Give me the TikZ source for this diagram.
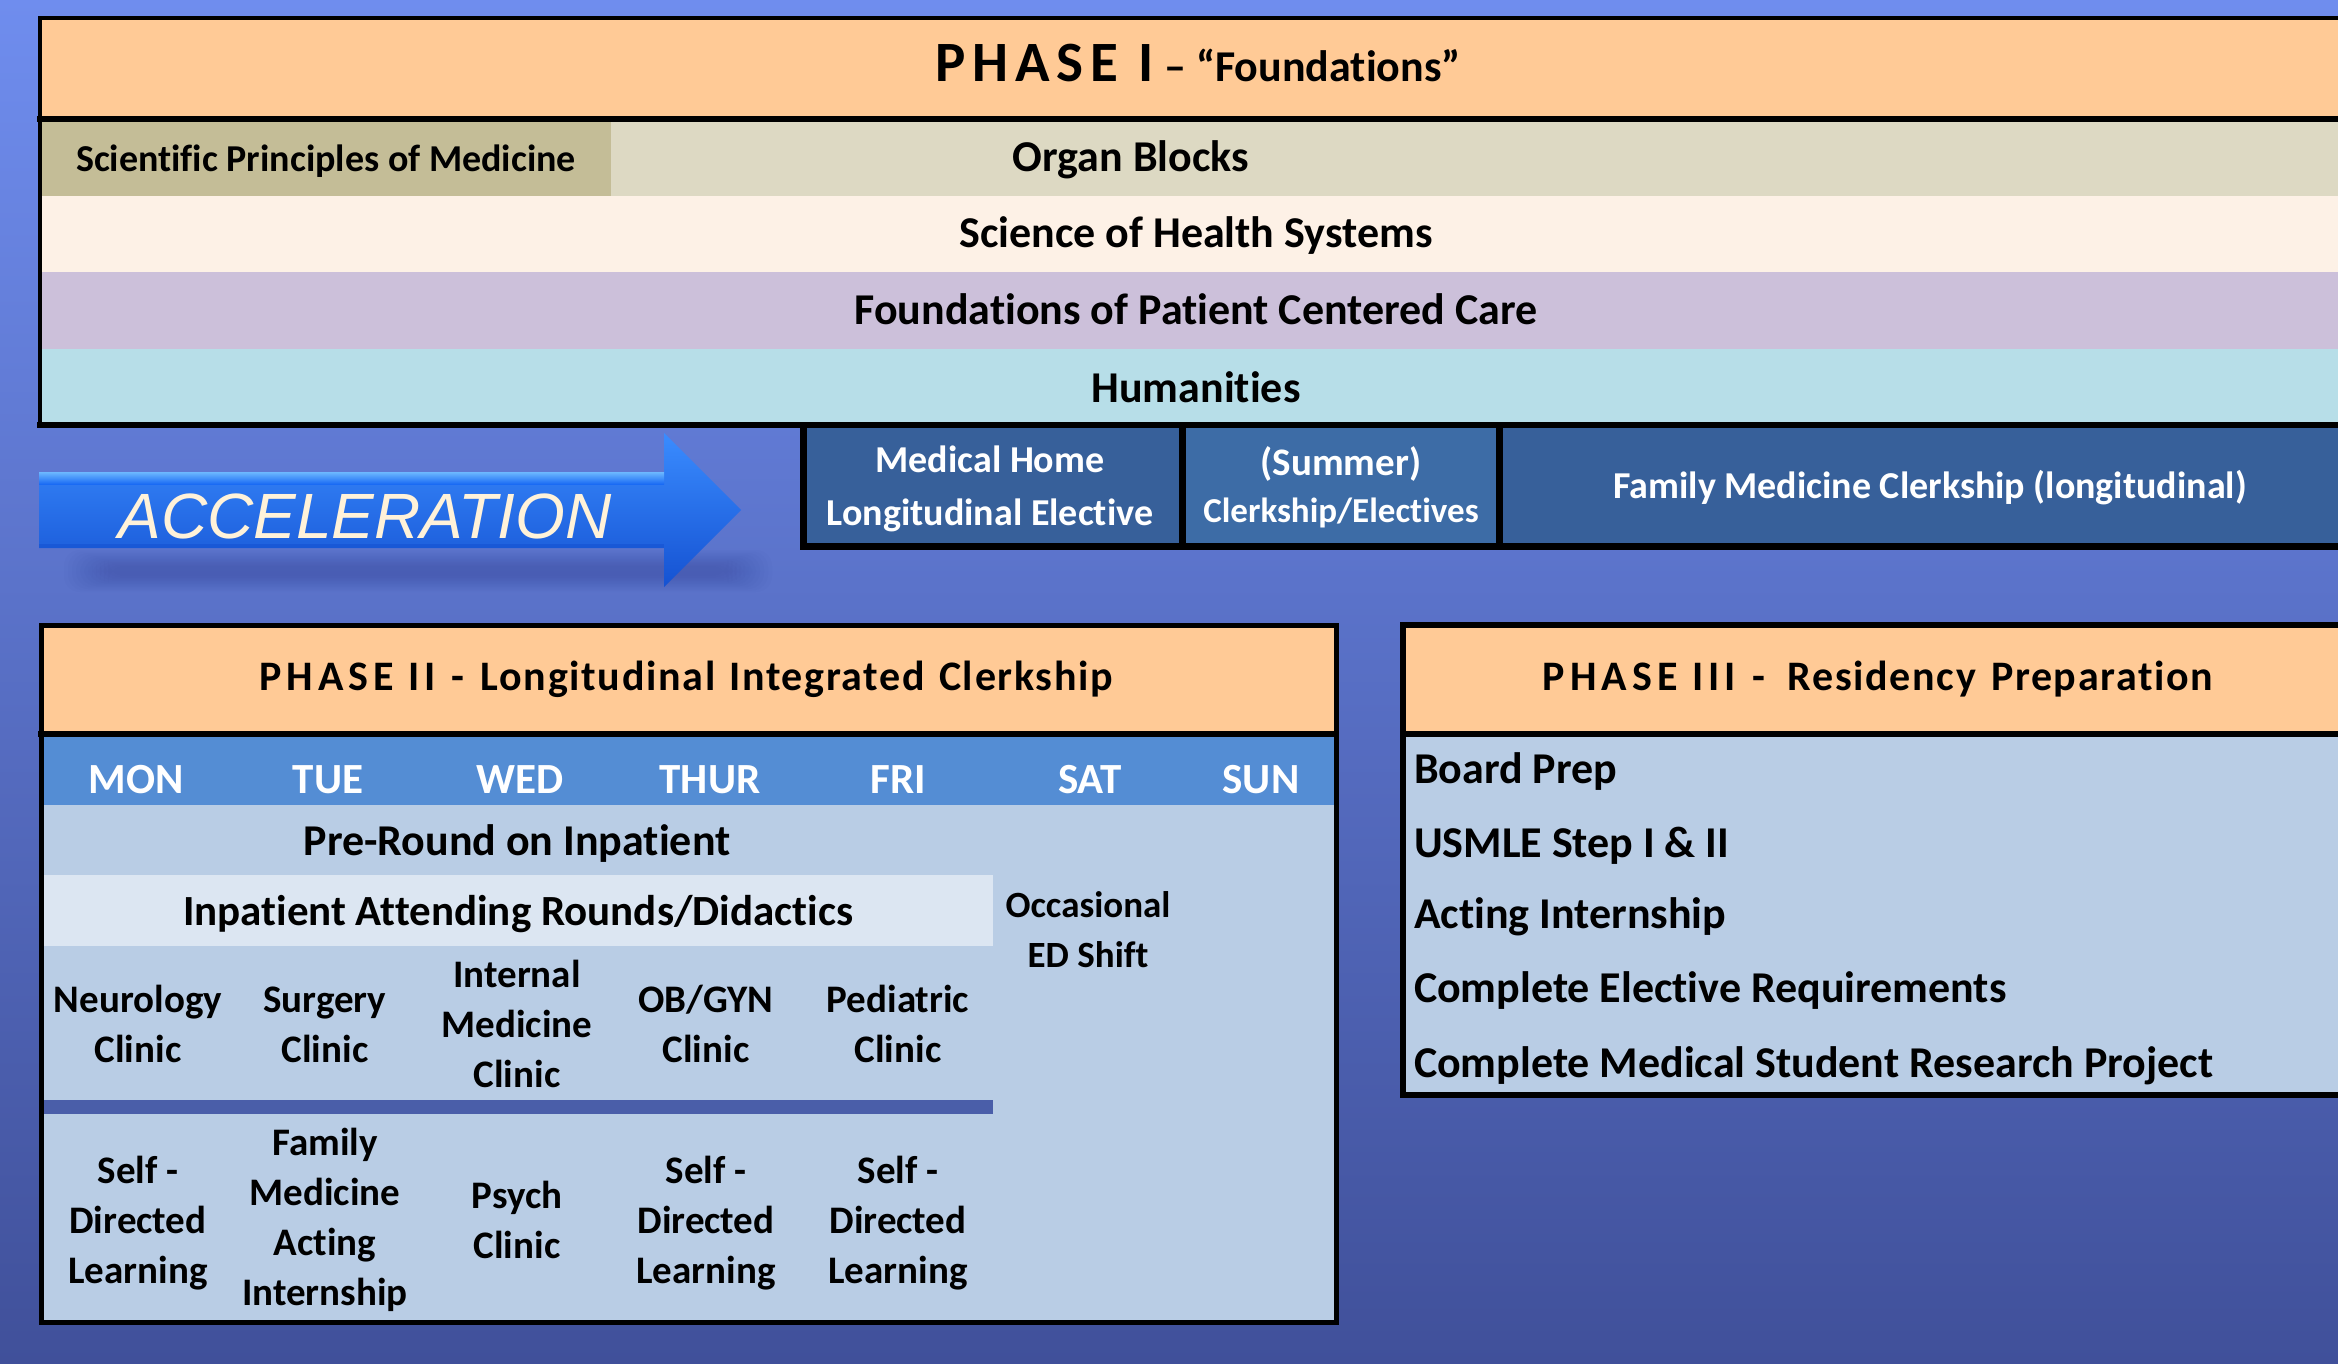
\documentclass[tikz,border=0pt]{standalone}
\usepackage{fontspec}
\setmainfont{Carlito}[Ligatures=NoCommon]
\newfontfamily\accfont{Liberation Sans}
\newfontfamily\spA{Carlito}[LetterSpace=12,Ligatures=NoCommon]
\newfontfamily\spB{Carlito}[LetterSpace=4,Ligatures=NoCommon]
\newcommand\fsz[2]{\fontsize{#1}{#2}\selectfont}
\newcommand\ml[1]{\begin{tabular}[t]{@{}c@{}}#1\end{tabular}}
\definecolor{bgtop}{HTML}{6F8DEE}
\definecolor{bgmid}{HTML}{6279D6}
\definecolor{bgbot}{HTML}{40509A}
\definecolor{peach}{HTML}{FFCA96}
\definecolor{sci}{HTML}{C4BD97}
\definecolor{organ}{HTML}{DDD9C3}
\definecolor{health}{HTML}{FDF1E6}
\definecolor{fpcc}{HTML}{CCC0DA}
\definecolor{human}{HTML}{B7DEE8}
\definecolor{mh}{HTML}{37609A}
\definecolor{summer}{HTML}{3D6CA6}
\definecolor{dayrow}{HTML}{548DD4}
\definecolor{body}{HTML}{B9CDE5}
\definecolor{band}{HTML}{DCE6F2}
\definecolor{sepbar}{HTML}{4A5EA9}
\definecolor{acctext}{HTML}{FFF2D9}
\definecolor{arrmain}{HTML}{1A6BF4}
\definecolor{arrtop}{HTML}{3A8CFF}
\definecolor{arrbot}{HTML}{1552D2}
\definecolor{arrhl}{HTML}{6DB8FF}
\definecolor{shadowc}{HTML}{34449A}
\begin{document}
\begin{tikzpicture}[x=1pt,y=-1pt,
  txt/.style={inner sep=0pt, outer sep=0pt, anchor=base, text=black},
  wtxt/.style={txt, text=white},
  ltxt/.style={txt, anchor=base west},
  border/.style={draw=black, line cap=rect},
]
\useasboundingbox (0,0) rectangle (2338,1364);
\shade[top color=bgtop, middle color=bgmid, bottom color=bgbot] (0,0) rectangle (2338,1364);

% ---------------- Phase I ----------------
\fill[peach] (40,18) rectangle (2345,119);
\fill[sci] (40,119) rectangle (611,196);
\fill[organ] (611,119) rectangle (2345,196);
\fill[health] (40,196) rectangle (2345,272);
\fill[fpcc] (40,272) rectangle (2345,349);
\fill[human] (40,349) rectangle (2345,425);
\draw[border, line width=4] (2345,18) -- (40,18) -- (40,425);
\draw[border, line width=6] (40,119) -- (2345,119);
\draw[border, line width=6] (40,425) -- (2345,425);

\node[txt] (p1head) at (1198,82) {\bfseries{\spA\fsz{57}{60}PHASE I}\hspace{11pt}{\fsz{44}{50}– “Foundations”}};
\node[txt, font=\bfseries\fsz{38}{46}] (spm) at (326,172) {Scientific Principles of Medicine};
\node[txt, font=\bfseries\fsz{44}{53}] (organ) at (1131,172) {Organ Blocks};
\node[txt, font=\bfseries\fsz{44}{53}] (health) at (1196,248) {Science of Health Systems};
\node[txt, font=\bfseries\fsz{44}{53}] (fpcc) at (1196,325) {Foundations of Patient Centered Care};
\node[txt, font=\bfseries\fsz{44}{53}] (human) at (1196,402) {Humanities};

% ---------------- Acceleration arrow ----------------
\foreach \i in {0,...,11}
  \fill[shadowc, opacity=0.035, rounded corners=16] (64+\i*4,550+\i*1.5) rectangle (772-\i*4,592-\i*1.5);
\shade[top color=arrtop, middle color=arrmain, bottom color=arrbot]
  (39,472) -- (664,472) -- (664,433) -- (741,510) -- (664,587) -- (664,548) -- (39,548) -- cycle;
\shade[top color=arrhl, bottom color=arrmain] (39,472) rectangle (664,484);
\fill[arrbot, opacity=0.6] (39,544) rectangle (664,548);
\node[txt, text=acctext, font=\accfont\itshape\fsz{64}{70}] (accel) at (365,538) {ACCELERATION};

% ---------------- Blue boxes ----------------
\fill[mh] (803,428) rectangle (1182,546);
\fill[summer] (1182,428) rectangle (1499,546);
\fill[mh] (1499,428) rectangle (2345,546);
\draw[border, line width=7] (803,428) -- (803,546) -- (2345,546);
\draw[border, line width=7] (1182,428) -- (1182,546);
\draw[border, line width=7] (1499,428) -- (1499,546);
\node[wtxt, font=\bfseries\fsz{38}{53}] (mhome) at (990,472) {\ml{Medical Home\\Longitudinal Elective}};
\node[wtxt, font=\bfseries\fsz{39}{47}] (summ) at (1341,475) {\ml{(Summer)\\\fsz{35}{47}Clerkship/Electives}};
\node[wtxt, font=\bfseries\fsz{38}{46}] (fmc) at (1930,498) {Family Medicine Clerkship (longitudinal)};

% ---------------- Phase II ----------------
\fill[peach] (41,625) rectangle (1336,734);
\fill[dayrow] (41,734) rectangle (1336,805);
\fill[body] (41,805) rectangle (1336,1322);
\fill[band] (41,875) rectangle (993,946);
\fill[sepbar] (41,1100) rectangle (993,1114);
\draw[border, line width=5] (41,625) rectangle (1336,1322);
\draw[border, line width=6] (41,734) -- (1336,734);

\node[txt, font=\bfseries\fsz{42}{50}] (p2head) at (686,690)
  {{\spA PHASE II}\hspace{16pt}-\hspace{16pt}{\spB Longitudinal\hspace{14pt}Integrated\hspace{14pt}Clerkship}};
\foreach \d/\x in {MON/136, TUE/328, WED/520, THUR/710, FRI/898, SAT/1090, SUN/1261}
  \node[wtxt, font=\bfseries\fsz{43}{50}] (day\d) at (\x,793) {\d};
\node[txt, font=\bfseries\fsz{44}{53}] (preround) at (517,855) {Pre-Round on Inpatient};
\node[txt, font=\bfseries\fsz{43}{53}] (rounds) at (518,925) {Inpatient Attending Rounds/Didactics};
\node[txt, font=\bfseries\fsz{37}{50}] (edshift) at (1088,917) {\ml{Occasional\\ED Shift}};

\node[txt, font=\bfseries\fsz{39}{50}] (neuro) at (138,1012) {\ml{Neurology\\Clinic}};
\node[txt, font=\bfseries\fsz{39}{50}] (surg) at (325,1012) {\ml{Surgery\\Clinic}};
\node[txt, font=\bfseries\fsz{39}{50}] (intmed) at (517,987) {\ml{Internal\\Medicine\\Clinic}};
\node[txt, font=\bfseries\fsz{39}{50}] (obgyn) at (706,1012) {\ml{OB/GYN\\Clinic}};
\node[txt, font=\bfseries\fsz{39}{50}] (peds) at (898,1012) {\ml{Pediatric\\Clinic}};

\node[txt, font=\bfseries\fsz{39}{50}] (sdl1) at (138,1183) {\ml{Self -\\Directed\\Learning}};
\node[txt, font=\bfseries\fsz{39}{50}] (fmai) at (325,1155) {\ml{Family\\Medicine\\Acting\\Internship}};
\node[txt, font=\bfseries\fsz{39}{50}] (psych) at (517,1208) {\ml{Psych\\Clinic}};
\node[txt, font=\bfseries\fsz{39}{50}] (sdl2) at (706,1183) {\ml{Self -\\Directed\\Learning}};
\node[txt, font=\bfseries\fsz{39}{50}] (sdl3) at (898,1183) {\ml{Self -\\Directed\\Learning}};

% ---------------- Phase III ----------------
\fill[peach] (1403,625) rectangle (2345,734);
\fill[body] (1403,734) rectangle (2345,1095);
\draw[border, line width=6] (2345,625) -- (1403,625) -- (1403,1095) -- (2345,1095);
\draw[border, line width=6] (1403,734) -- (2345,734);

\node[txt, font=\bfseries\fsz{42}{50}] (p3head) at (1878,690)
  {{\spA PHASE III}\hspace{17pt}-\hspace{22pt}{\spB Residency\hspace{15pt}Preparation}};
\node[ltxt, font=\bfseries\fsz{44}{53}] (board) at (1414,783) {Board Prep};
\node[ltxt, font=\bfseries\fsz{44}{53}] (usmle) at (1414,857) {USMLE Step I \& II};
\node[ltxt, font=\bfseries\fsz{44}{53}] (acting) at (1414,928) {Acting Internship};
\node[ltxt, font=\bfseries\fsz{44}{53}] (elect) at (1414,1002) {Complete Elective Requirements};
\node[ltxt, font=\bfseries\fsz{44}{53}] (research) at (1414,1077) {Complete Medical Student Research Project};
\end{tikzpicture}
\end{document}
